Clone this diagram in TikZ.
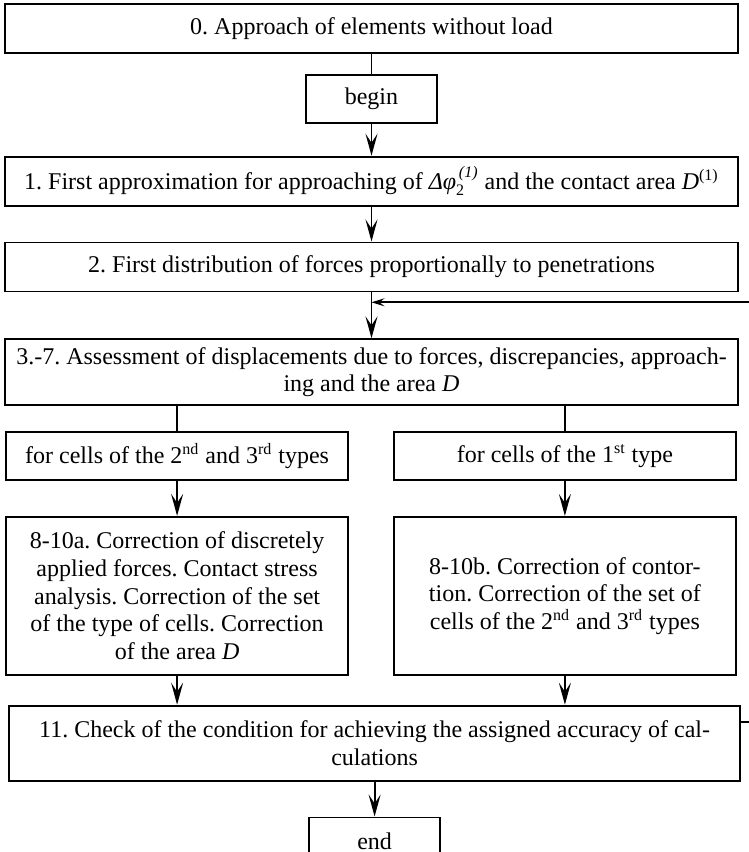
\documentclass[tikz,border=0pt]{standalone}
\usepackage{amsmath}
\usepackage{fontspec}
\setmainfont{Liberation Serif}
\usepackage{tikz}
\usetikzlibrary{arrows.meta,positioning,calc}
\frenchspacing

\begin{document}
\begin{tikzpicture}[
   >={Stealth[length=11pt,width=6pt,inset=4.5pt]}, line width=0.9pt,
   font=\fontsize{12}{13.8}\selectfont,
   blocco/.style={draw,align=center,inner sep=1pt},
   largo/.style={blocco,minimum width=366.5pt,minimum height=24.5pt},
   corto/.style={blocco,minimum width=65.5pt,minimum height=24pt},
   medio/.style={blocco,minimum width=171pt},
   ritorno/.style={-{Stealth[length=6.5pt,width=4pt,inset=2.5pt]}}]
  \useasboundingbox (0,0) rectangle (374.5pt,-426pt);
  \node[largo] (b0) at (185.75pt,-14.25pt) {0. Approach of elements without load};
  \node[corto,below=10pt of b0] (beg) {begin};
  \node[largo,below=16pt of beg] (b1) {1. First approximation for approaching of \textit{Δφ}$_{\text{2}}^{\,\textit{(1)}}$ and the contact area \textit{D}$^{\text{(1)}}$};
  \node[largo,below=17.5pt of b1] (b2) {2. First distribution of forces proportionally to penetrations};
  \node[largo,minimum height=33pt,below=23pt of b2] (b3) {3.-7. Assessment of displacements due to forces, discrepancies, approach-\\ing and the area \textit{D}};
  \node[medio,minimum height=24pt,anchor=north] (c23) at ($(b3.south west)+(86.5pt,-12.5pt)$) {for cells of the 2\textsuperscript{nd} and 3\textsuperscript{rd} types};
  \node[medio,minimum height=24pt,anchor=north] (c1) at ($(b3.south east)+(-87pt,-12.5pt)$) {for cells of the 1\textsuperscript{st} type};
  \node[medio,minimum height=79pt,below=17.5pt of c23] (a10) {8-10a. Correction of discretely\\applied forces. Contact stress\\analysis. Correction of the set\\of the type of cells. Correction\\of the area \textit{D}};
  \node[medio,minimum height=79pt,below=17.5pt of c1] (b10) {8-10b. Correction of contor-\\tion. Correction of the set of\\cells of the 2\textsuperscript{nd} and 3\textsuperscript{rd} types};
  \node[blocco,minimum width=365.5pt,minimum height=37.5pt,anchor=north west] (b11) at ($(a10.south west)+(1.5pt,-14.5pt)$) {11. Check of the condition for achieving the assigned accuracy of cal-\\culations};
  \node[corto,below=17.5pt of b11] (fin) {end};
  \coordinate (fb) at ($(b2.south)+(0,-5pt)$);
  \coordinate (rit) at ($(b11.north east)+(0,-8.5pt)$);
  \draw (b0.south) -- (beg.north);
  \draw[->] (beg) -- (b1);
  \draw[->] (b1) -- (b2);
  \draw[->] (b2.south) -- (b3.north);
  \draw[ritorno] (rit) -- ++(12pt,0) |- (fb);
  \draw (b3.south -| c23.north) -- (c23.north);
  \draw (b3.south -| c1.north) -- (c1.north);
  \draw[->] (c23) -- (a10);
  \draw[->] (c1) -- (b10);
  \draw[->] (a10.south) -- (a10.south |- b11.north);
  \draw[->] (b10.south) -- (b10.south |- b11.north);
  \draw[->] (b11) -- (fin);
\end{tikzpicture}
\end{document}
